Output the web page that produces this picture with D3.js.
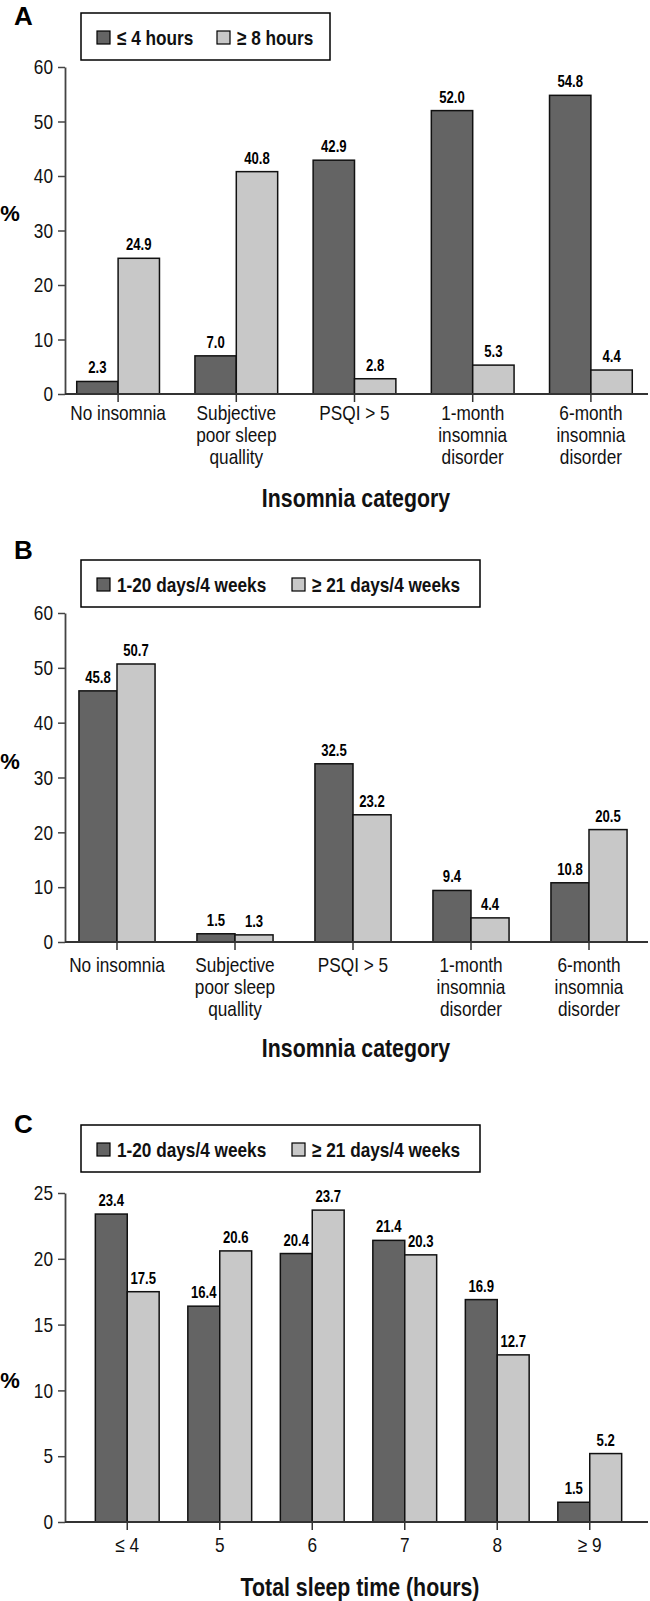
<!DOCTYPE html>
<html><head><meta charset="utf-8">
<script src="https://cdn.jsdelivr.net/npm/d3@7"></script>
<style>body{margin:0;background:#fff} svg{display:block}</style>
</head><body>
<svg id="chart" width="650" height="1601"></svg>
<script>
// ---- data ----
const insomniaCategories = ["No insomnia", "Subjective poor sleep quallity", "PSQI > 5", "1-month insomnia disorder", "6-month insomnia disorder"];
const insomniaLabelLines = [["No insomnia"], ["Subjective", "poor sleep", "quallity"], ["PSQI > 5"], ["1-month", "insomnia", "disorder"], ["6-month", "insomnia", "disorder"]];
const sleepCategories = ["≤ 4", "5", "6", "7", "8", "≥ 9"];
const seriesA = ["≤ 4 hours", "≥ 8 hours"];
const valuesAShort = [2.3, 7.0, 42.9, 52.0, 54.8];
const valuesALong = [24.9, 40.8, 2.8, 5.3, 4.4];
const seriesBC = ["1-20 days/4 weeks", "≥ 21 days/4 weeks"];
const valuesBSome = [45.8, 1.5, 32.5, 9.4, 10.8];
const valuesBMost = [50.7, 1.3, 23.2, 4.4, 20.5];
const valuesCSome = [23.4, 16.4, 20.4, 21.4, 16.9, 1.5];
const valuesCMost = [17.5, 20.6, 23.7, 20.3, 12.7, 5.2];
const ticksAB = [0, 10, 20, 30, 40, 50, 60];
const ticksC = [0, 5, 10, 15, 20, 25];
const panelLetters = ["A", "B", "C"];
const xTitles = ["Insomnia category", "Insomnia category", "Total sleep time (hours)"];

// ---- style ----
const FONT = "'Liberation Sans',Arial,sans-serif";
const SX = 0.82; // condensed look
const colors = ["#646464", "#c8c8c8"];
const svg = d3.select("#chart");

function ntext(parent, x, y, str, size, bold, anchor) {
  return parent.append("text")
    .attr("transform", `translate(${x},${y}) scale(${SX},1)`)
    .attr("text-anchor", anchor || "start")
    .attr("font-family", FONT).attr("font-size", size)
    .attr("font-weight", bold ? "bold" : "normal").attr("fill", "#111")
    .text(str);
}

function panel(cfg) {
  const g = svg.append("g");
  const x = d3.scaleBand().domain(cfg.cats).range(cfg.xRange).paddingInner(cfg.pad).paddingOuter(cfg.pad / 2);
  const xs = d3.scaleBand().domain([0, 1]).range([0, x.bandwidth()]);
  const y = d3.scaleLinear().domain(cfg.yDomain).range(cfg.yRange);

  // panel letter
  g.append("text").attr("x", 14).attr("y", cfg.letterY).text(cfg.letter)
    .attr("font-family", FONT).attr("font-weight", "bold").attr("font-size", 26);

  // legend
  const lg = g.append("g");
  lg.append("rect").attr("x", 81).attr("y", cfg.legY).attr("width", cfg.legW).attr("height", 47)
    .attr("fill", "#fff").attr("stroke", "#000").attr("stroke-width", 1.5);
  cfg.series.forEach((s, i) => {
    lg.append("rect").attr("x", cfg.legX[i]).attr("y", cfg.legY + 18).attr("width", 13).attr("height", 13)
      .attr("fill", colors[i]).attr("stroke", "#000").attr("stroke-width", 1.2);
    ntext(lg, cfg.legX[i] + 20, cfg.legY + 32, s, 21, true);
  });

  // y axis
  const yAxis = g.append("g").attr("transform", `translate(${cfg.axisX},0)`)
    .call(d3.axisLeft(y).tickValues(cfg.yTicks).tickSize(7).tickPadding(4).tickSizeOuter(0));
  yAxis.select(".domain").attr("stroke", "#444").attr("stroke-width", 1.8);
  yAxis.selectAll(".tick line").attr("stroke", "#444").attr("stroke-width", 1.5);
  yAxis.selectAll(".tick text").attr("font-family", FONT).attr("font-size", 21).attr("fill", "#111")
    .attr("transform", `scale(${SX},1)`).attr("x", -12 / SX);

  // bars
  cfg.values.forEach((vals, si) => {
    g.append("g").selectAll("rect").data(vals).join("rect")
      .attr("x", (d, i) => x(cfg.cats[i]) + xs(si))
      .attr("y", d => y(d))
      .attr("width", xs.bandwidth())
      .attr("height", d => y(0) - y(d))
      .attr("fill", colors[si]).attr("stroke", "#111").attr("stroke-width", 1.5);
    g.append("g").selectAll("text").data(vals).join("text")
      .attr("transform", (d, i) => `translate(${x(cfg.cats[i]) + xs(si) + xs.bandwidth() / 2},${y(d) - 8}) scale(${SX},1)`)
      .attr("text-anchor", "middle")
      .attr("font-family", FONT).attr("font-weight", "bold").attr("font-size", 16)
      .text(d => d3.format(".1f")(d));
  });

  // x axis
  const xAxis = g.append("g").attr("transform", `translate(0,${y(0)})`);
  xAxis.append("line").attr("x1", cfg.axisX).attr("x2", 648).attr("stroke", "#333").attr("stroke-width", 1.8);
  xAxis.selectAll("line.t").data(cfg.cats).join("line").attr("class", "t")
    .attr("x1", d => x(d) + x.bandwidth() / 2).attr("x2", d => x(d) + x.bandwidth() / 2)
    .attr("y1", 0).attr("y2", 8).attr("stroke", "#333").attr("stroke-width", 1.5);
  const lbl = xAxis.selectAll("text.l").data(cfg.cats).join("text").attr("class", "l")
    .attr("text-anchor", "middle").attr("font-family", FONT).attr("font-size", 21).attr("fill", "#111")
    .attr("transform", d => `translate(${x(d) + x.bandwidth() / 2},${cfg.labelY - y(0)}) scale(${SX},1)`);
  lbl.each(function (d, i) {
    const lines = cfg.lines ? cfg.lines[i] : [d];
    d3.select(this).selectAll("tspan").data(lines).join("tspan")
      .attr("x", 0).attr("dy", (l, j) => j === 0 ? 0 : 22).text(l => l);
  });

  // axis titles
  ntext(g, cfg.titleX, cfg.titleY, cfg.xTitle, 26, true, "middle");
  g.append("text").attr("x", 10).attr("y", cfg.pctY).attr("text-anchor", "middle")
    .attr("font-family", FONT).attr("font-weight", "bold").attr("font-size", 22).text("%");
}

panel({
  letter: panelLetters[0], letterY: 25, cats: insomniaCategories, lines: insomniaLabelLines,
  xRange: [59, 650], pad: 0.3, yDomain: [0, 60], yRange: [394, 67], yTicks: ticksAB,
  values: [valuesAShort, valuesALong], series: seriesA, legY: 13, legW: 249, legX: [97, 217],
  axisX: 65, labelY: 420, titleX: 356, titleY: 507, xTitle: xTitles[0], pctY: 221
});
panel({
  letter: panelLetters[1], letterY: 559, cats: insomniaCategories, lines: insomniaLabelLines,
  xRange: [58, 648], pad: 0.355, yDomain: [0, 60], yRange: [942, 613], yTicks: ticksAB,
  values: [valuesBSome, valuesBMost], series: seriesBC, legY: 560, legW: 399, legX: [97, 292],
  axisX: 65, labelY: 972, titleX: 356, titleY: 1057, xTitle: xTitles[1], pctY: 769
});
panel({
  letter: panelLetters[2], letterY: 1133, cats: sleepCategories, lines: null,
  xRange: [81, 636], pad: 0.31, yDomain: [0, 25], yRange: [1522, 1193], yTicks: ticksC,
  values: [valuesCSome, valuesCMost], series: seriesBC, legY: 1125, legW: 399, legX: [97, 292],
  axisX: 65, labelY: 1552, titleX: 360, titleY: 1596, xTitle: xTitles[2], pctY: 1388
});
</script>
</body></html>
